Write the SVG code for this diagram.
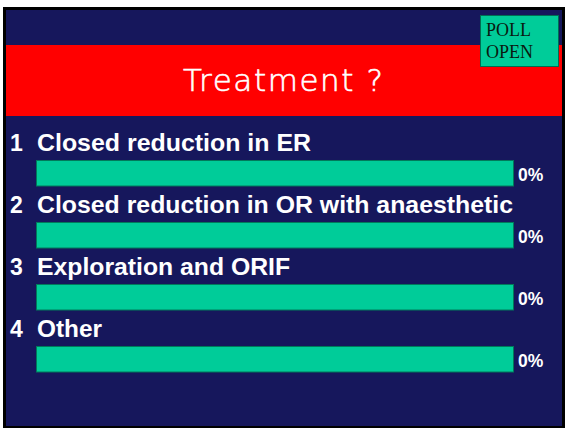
<svg xmlns="http://www.w3.org/2000/svg" width="565" height="428" viewBox="0 0 565 428">
<style>
.opt{font-family:"Liberation Sans",Arial,sans-serif;font-weight:bold;font-size:24px;fill:#ffffff}
.num{font-family:"Liberation Sans",Arial,sans-serif;font-weight:bold;font-size:23px;fill:#ffffff}
.pct{font-family:"Liberation Sans",Arial,sans-serif;font-weight:bold;font-size:17.5px;fill:#ffffff}
.bar{fill:#00CC99;stroke:#007a5a;stroke-width:1}
.poll{font-family:"Liberation Serif","Times New Roman",serif;font-size:18px;fill:#0a1a10}
</style>
<rect x="0" y="0" width="565" height="428" fill="#ffffff"/>
<rect id="frame" x="3" y="7" width="562" height="421" fill="#000000"/>
<rect id="slide" x="6" y="10" width="556" height="416" fill="#16175C"/>
<g id="title">
<rect x="6" y="45" width="556" height="71" fill="#FF0000"/>
<text x="283" y="91" text-anchor="middle" font-family="'DejaVu Sans',sans-serif" font-weight="200" font-size="31" fill="#ffffff" stroke="#ffffff" stroke-width="0.6" textLength="200" lengthAdjust="spacing">Treatment ?</text>
</g>
<g id="poll">
<rect x="480.5" y="15.5" width="78" height="51" fill="#00CC99" stroke="#006e52" stroke-width="1"/>
<text class="poll" x="486" y="36">POLL</text>
<text class="poll" x="486" y="58">OPEN</text>
</g>
<g id="option1">
<text class="num" x="10" y="151">1</text>
<text class="opt" x="37" y="151" textLength="274" lengthAdjust="spacingAndGlyphs">Closed reduction in ER</text>
<rect class="bar" x="36.5" y="160.5" width="477" height="25.5"/>
<text class="pct" x="518" y="181">0%</text>
</g>
<g id="option2">
<text class="num" x="10" y="213">2</text>
<text class="opt" x="37" y="213" textLength="476" lengthAdjust="spacingAndGlyphs">Closed reduction in OR with anaesthetic</text>
<rect class="bar" x="36.5" y="222.5" width="477" height="25.5"/>
<text class="pct" x="518" y="243">0%</text>
</g>
<g id="option3">
<text class="num" x="10" y="275">3</text>
<text class="opt" x="37" y="275" textLength="253" lengthAdjust="spacingAndGlyphs">Exploration and ORIF</text>
<rect class="bar" x="36.5" y="284.5" width="477" height="25.5"/>
<text class="pct" x="518" y="305">0%</text>
</g>
<g id="option4">
<text class="num" x="10" y="337">4</text>
<text class="opt" x="37" y="337" textLength="65" lengthAdjust="spacingAndGlyphs">Other</text>
<rect class="bar" x="36.5" y="346.5" width="477" height="25.5"/>
<text class="pct" x="518" y="367">0%</text>
</g>
<g id="connectors"/>
</svg>
